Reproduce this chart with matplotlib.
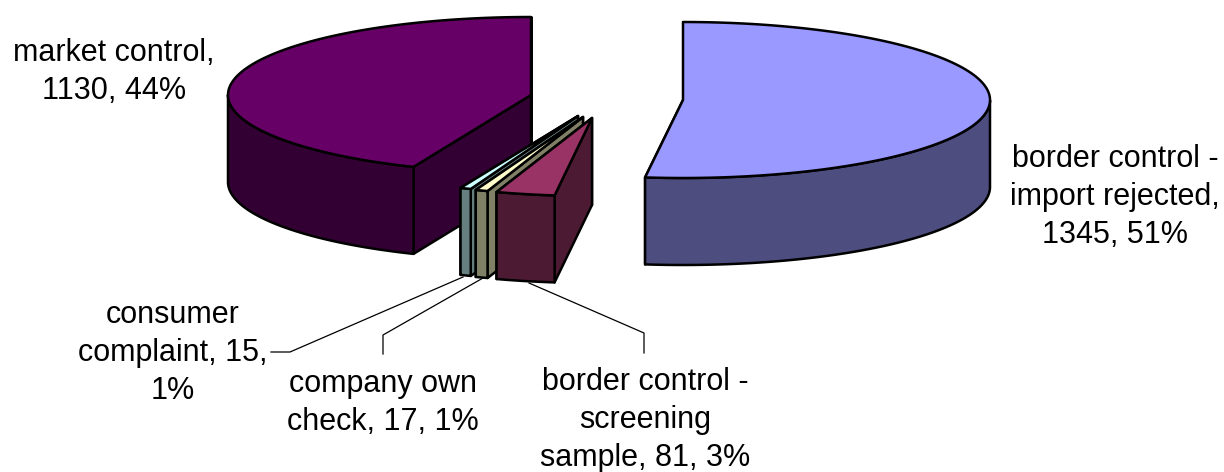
import numpy as np
import matplotlib
matplotlib.use('Agg')
import matplotlib.pyplot as plt
from matplotlib.patches import Polygon

# ============ Dataset ============
categories = ['border control - import rejected', 'border control - screening sample',
              'company own check', 'consumer complaint', 'market control']
values = [1345, 81, 17, 15, 1130]
percents = [51, 3, 1, 1, 44]

# label text with the line breaks of the original
label_lines = [
    'border control -\nimport rejected,\n{v}, {p}%',
    'border control -\nscreening\nsample, {v}, {p}%',
    'company own\ncheck, {v}, {p}%',
    'consumer\ncomplaint, {v},\n{p}%',
    'market control,\n{v}, {p}%',
]

# ============ Style ============
top_colors = ['#9999FF', '#993366', '#FFFFCC', '#CCFFFF', '#660066']
side_colors = ['#4D4D80', '#4D1A33', '#808066', '#668080', '#330033']

# exploded pie layout in pixels
centers = [(683, 100), (592, 118), (583, 117), (578, 116), (531, 95)]
radius_x = [307, 303, 303, 303, 303]
radius_y = 78
depth = 87

label_pos = [(1115, 197), (645, 420), (383, 403), (173, 353), (114, 72)]
leaders = [
    None,
    [(644, 353), (644, 333), (529, 283)],
    [(383, 354), (383, 335), (483, 278)],
    [(271, 352), (290, 352), (463, 277)],
    None,
]

plt.rcParams['font.family'] = ['Liberation Sans', 'DejaVu Sans']

fig = plt.figure(figsize=(12.24, 4.72), dpi=100)
ax = fig.add_axes([0, 0, 1, 1])
ax.set_xlim(0, 1224)
ax.set_ylim(472, 0)
ax.axis('off')


def add_face(points, color, z):
    ax.add_patch(Polygon(points, closed=True, facecolor=color, edgecolor='black',
                         linewidth=1.8, joinstyle='round', zorder=z))


# ============ Pie slices ============
# angles run clockwise from 12 o'clock, as in the spreadsheet pie
fractions = np.array(values) / np.sum(values)
edges = np.concatenate([[0], np.cumsum(fractions)]) * 2 * np.pi
draw_order = [4, 3, 2, 1, 0]

for rank, i in enumerate(draw_order):
    cx, cy = centers[i]
    rx = radius_x[i]
    t = np.linspace(edges[i], edges[i + 1], 200)
    arc_x = cx + rx * np.sin(t)
    arc_y = cy - radius_y * np.cos(t)
    arc = np.column_stack([arc_x, arc_y])
    z = 2 + rank * 5

    # flat radial faces under the top, the start edge is the one seen
    for px, py in [(arc_x[-1], arc_y[-1]), (arc_x[0], arc_y[0])]:
        add_face([(cx, cy), (px, py), (px, py + depth), (cx, cy + depth)], side_colors[i], z)

    # rim, only the part that faces the viewer
    front = np.cos(t) <= 0
    if front.any():
        rim = arc[front]
        add_face(np.vstack([rim, (rim + [0, depth])[::-1]]), side_colors[i], z + 1)

    add_face(np.vstack([[cx, cy], arc]), top_colors[i], z + 2)

# ============ Labels ============
for i in range(len(categories)):
    ax.text(label_pos[i][0], label_pos[i][1],
            label_lines[i].format(v=values[i], p=percents[i]),
            ha='center', va='center', fontsize=22, linespacing=1.33,
            color='black', zorder=50)
    if leaders[i] is not None:
        xs, ys = zip(*leaders[i])
        ax.plot(xs, ys, color='black', linewidth=0.9, zorder=1)

fig.savefig('out.png', dpi=100)
